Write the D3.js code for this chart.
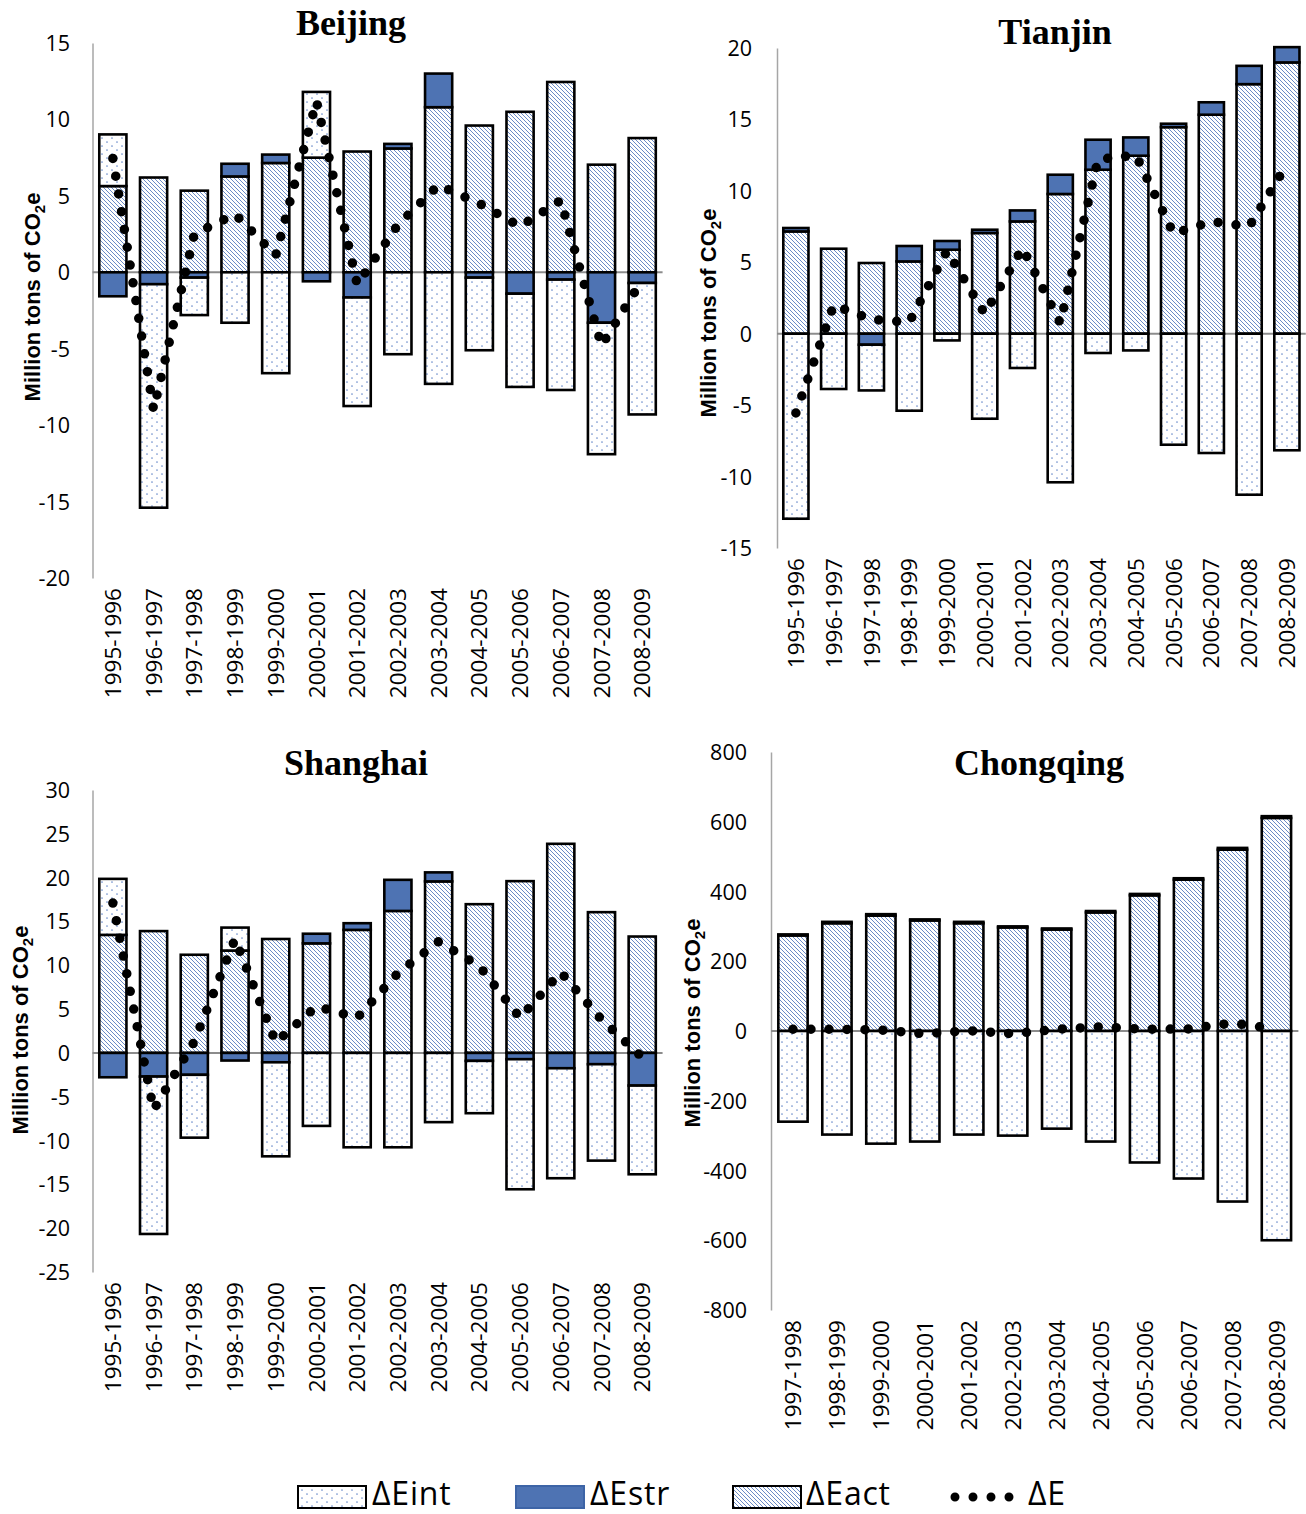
<!DOCTYPE html>
<html><head><meta charset="utf-8">
<script src="https://cdn.jsdelivr.net/npm/d3@7"></script>
<style>body{margin:0;background:#fff}</style>
</head><body>
<svg id="c" width="1306" height="1514"></svg>
<script>
// ---------- DATA ----------
const years14 = ["1995-1996","1996-1997","1997-1998","1998-1999","1999-2000","2000-2001","2001-2002","2002-2003","2003-2004","2004-2005","2005-2006","2006-2007","2007-2008","2008-2009"];
const years12 = ["1997-1998","1998-1999","1999-2000","2000-2001","2001-2002","2002-2003","2003-2004","2004-2005","2005-2006","2006-2007","2007-2008","2008-2009"];

// Beijing
const bjAct = [5.64, 6.2, 5.34, 6.27, 7.15, 7.5, 7.9, 8.1, 10.8, 9.6, 10.5, 12.45, 7.04, 8.78];
const bjStr = [-1.57, -0.78, -0.35, 0.83, 0.55, -0.59, -1.65, 0.3, 2.2, -0.35, -1.4, -0.48, -3.3, -0.7];
const bjInt = [3.38, -14.62, -2.45, -3.3, -6.6, 4.3, -7.1, -5.36, -7.3, -4.75, -6.1, -7.22, -8.6, -8.6];
const bjE   = [7.45, -9.0, 2.5, 3.8, 1.1, 11.2, -0.8, 3.1, 5.7, 4.5, 3.0, 4.7, -4.8, -0.5];
const bjTicks = [15, 10, 5, 0, -5, -10, -15, -20];

// Tianjin
const tjAct = [7.16, 5.95, 4.95, 5.06, 5.88, 7.05, 7.86, 9.78, 11.48, 12.46, 14.46, 15.33, 17.47, 18.99];
const tjStr = [0.24, 0, -0.77, 1.08, 0.61, 0.23, 0.77, 1.35, 2.1, 1.28, 0.24, 0.87, 1.28, 1.07];
const tjInt = [-12.95, -3.87, -3.2, -5.39, -0.47, -5.95, -2.4, -10.4, -1.35, -1.17, -7.77, -8.35, -11.27, -8.16];
const tjE   = [-5.55, 2.0, 1.0, 0.8, 5.8, 1.4, 6.0, 0.75, 12.2, 12.5, 7.0, 7.85, 7.5, 11.85];
const tjTicks = [20, 15, 10, 5, 0, -5, -10, -15];

// Shanghai
const shAct = [13.47, 13.9, 11.2, 11.68, 13.0, 12.5, 14.04, 16.2, 19.57, 16.97, 19.6, 23.86, 16.06, 13.28];
const shStr = [-2.78, -2.7, -2.5, -0.87, -1.07, 1.1, 0.76, 3.55, 1.03, -0.91, -0.72, -1.75, -1.29, -3.73];
const shInt = [6.39, -17.96, -7.17, 2.62, -10.73, -8.33, -10.77, -10.77, -7.9, -5.97, -14.84, -12.55, -11.0, -10.12];
const shE   = [17.1, -6.5, 1.3, 13.0, 1.2, 5.3, 4.0, 9.1, 12.7, 9.9, 4.0, 9.2, 3.8, -0.5];
const shTicks = [30, 25, 20, 15, 10, 5, 0, -5, -10, -15, -20, -25];

// Chongqing
const cqAct = [274, 309, 331, 317, 309, 297, 291, 340, 389, 434, 520, 611];
const cqStr = [3, 4, 4, 3, 4, 3, 3, 4, 4, 4, 5, 5];
const cqInt = [-260, -297, -323, -317, -297, -300, -280, -317, -377, -423, -489, -600];
const cqE   = [5, 5, 3, -8, 1, -8, 5, 12, 5, 6, 23, 5];
const cqTicks = [800, 600, 400, 200, 0, -200, -400, -600, -800];

const legendItems = ["\u0394Eint", "\u0394Estr", "\u0394Eact", "\u0394E"];

// ---------- DRAW ----------
const svg = d3.select("#c");
const defs = svg.append("defs");
const hatch = defs.append("pattern").attr("id","hatch").attr("patternUnits","userSpaceOnUse").attr("width",4).attr("height",4);
hatch.append("rect").attr("width",4).attr("height",4).attr("fill","#fff");
hatch.append("path").attr("d","M-1,-1L5,5M-1,3L1,5M3,-1L5,1").attr("stroke","#5a7ec0").attr("stroke-width",0.9);
const dots = defs.append("pattern").attr("id","dots").attr("patternUnits","userSpaceOnUse").attr("width",10).attr("height",8);
dots.append("rect").attr("width",10).attr("height",8).attr("fill","#fff");
dots.append("circle").attr("cx",2).attr("cy",2).attr("r",0.85).attr("fill","#6f8fcc");
dots.append("circle").attr("cx",7).attr("cy",6).attr("r",0.85).attr("fill","#6f8fcc");

const fills = {act:"url(#hatch)", str:"#4e73b3", int:"url(#dots)"};
const tickFont = "'Open Sans', sans-serif";

function drawPanel(p) {
  const g = svg.append("g");
  const x = d3.scaleBand().domain(p.cats).range(p.xr).paddingInner(1/3).paddingOuter(1/6);
  const y = d3.scaleLinear().domain(p.yd).range(p.yr);

  // y axis
  const ya = g.append("g").attr("transform",`translate(${p.xr[0]},0)`)
    .call(d3.axisLeft(y).tickValues(p.ticks).tickSize(0).tickPadding(p.xr[0]-p.tickX).tickFormat(d=>String(d)));
  ya.select(".domain").attr("stroke","#a6a6a6").attr("stroke-width",1.5);
  ya.selectAll("text").attr("font-family",tickFont).attr("font-size",21.5).attr("fill","#000").attr("dy","0.35em");

  // zero line
  g.append("line").attr("x1",p.xr[0]).attr("x2",p.xr[1]).attr("y1",y(0)).attr("y2",y(0))
    .attr("stroke","#8c8c8c").attr("stroke-width",2);

  // bars
  const rows = p.cats.map((c,i)=>({cat:c, act:p.act[i], str:p.str[i], int:p.int[i]}));
  const series = d3.stack().keys(["act","str","int"]).offset(d3.stackOffsetDiverging)(rows);
  g.selectAll("g.s").data(series).join("g").attr("class","s").attr("fill",d=>fills[d.key])
    .selectAll("rect").data(d=>d).join("rect")
    .attr("x",d=>x(d.data.cat)).attr("width",x.bandwidth())
    .attr("y",d=>y(Math.max(d[0],d[1]))).attr("height",d=>Math.abs(y(d[0])-y(d[1])))
    .attr("stroke","#000").attr("stroke-width",2.6);

  // delta E dotted line
  const line = d3.line().x((d,i)=>x(p.cats[i])+x.bandwidth()/2).y(d=>y(d));
  g.append("path").attr("d",line(p.e)).attr("fill","none").attr("stroke","#000")
    .attr("stroke-width",9.5).attr("stroke-linecap","round").attr("stroke-dasharray","0 18");

  // x labels
  const xa = g.append("g").attr("transform",`translate(0,${p.yr[0]})`).call(d3.axisBottom(x).tickSize(0));
  xa.select(".domain").remove();
  xa.selectAll("text").attr("font-family",tickFont).attr("font-size",22.5).attr("fill","#000")
    .attr("transform","rotate(-90)").attr("text-anchor","end").attr("x",-10).attr("y",0).attr("dy","0.36em");

  // title
  g.append("text").attr("x",p.title[0]).attr("y",p.title[1]).attr("text-anchor","middle")
    .attr("font-family","'Liberation Serif', serif").attr("font-weight","bold").attr("font-size",36).text(p.name);

  // y title
  const yt = g.append("text").attr("transform",`translate(${p.yt[0]},${p.yt[1]}) rotate(-90)`).attr("text-anchor","middle")
    .attr("font-family","'Liberation Sans', Arial, sans-serif").attr("font-weight","bold").attr("font-size",22);
  yt.append("tspan").text("Million tons of CO");
  yt.append("tspan").attr("font-size",15).attr("dy",5).text("2");
  yt.append("tspan").attr("dy",-5).text("e");
}

drawPanel({name:"Beijing", cats:years14, act:bjAct, str:bjStr, int:bjInt, e:bjE, ticks:bjTicks,
  yd:[-20,15], yr:[578,43], xr:[92.5, 92.5+14*40.72], tickX:70, title:[351,35], yt:[40,297]});
drawPanel({name:"Tianjin", cats:years14, act:tjAct, str:tjStr, int:tjInt, e:tjE, ticks:tjTicks,
  yd:[-15,20], yr:[548,48], xr:[777, 777+14*37.77], tickX:752, title:[1055,44], yt:[716,313]});
drawPanel({name:"Shanghai", cats:years14, act:shAct, str:shStr, int:shInt, e:shE, ticks:shTicks,
  yd:[-25,30], yr:[1272,790], xr:[92.5, 92.5+14*40.72], tickX:70, title:[356,775], yt:[28,1030]});
drawPanel({name:"Chongqing", cats:years12, act:cqAct, str:cqStr, int:cqInt, e:cqE, ticks:cqTicks,
  yd:[-800,800], yr:[1310,752], xr:[771, 771+12*43.95], tickX:747, title:[1039,775], yt:[700,1023]});

// legend
const lg = svg.append("g");
const swX = [298, 516, 733];
const swFill = [fills.int, fills.str, fills.act];
const swStroke = ["#000", "#3d64a6", "#000"];
swX.forEach((sx,i)=>{
  lg.append("rect").attr("x",sx).attr("y",1486).attr("width",68).attr("height",22)
    .attr("fill",swFill[i]).attr("stroke",swStroke[i]).attr("stroke-width",2);
});
const txX = [372, 590, 806, 1028];
legendItems.forEach((t,i)=>{
  lg.append("text").attr("x",txX[i]).attr("y",1505).attr("font-family",tickFont).attr("font-size",32)
    .attr("letter-spacing",0.8).attr("fill","#000").text(t);
});
lg.append("path").attr("d","M955,1497L1010,1497").attr("stroke","#000").attr("stroke-width",9)
  .attr("stroke-linecap","round").attr("stroke-dasharray","0 18");
</script>
</body></html>
